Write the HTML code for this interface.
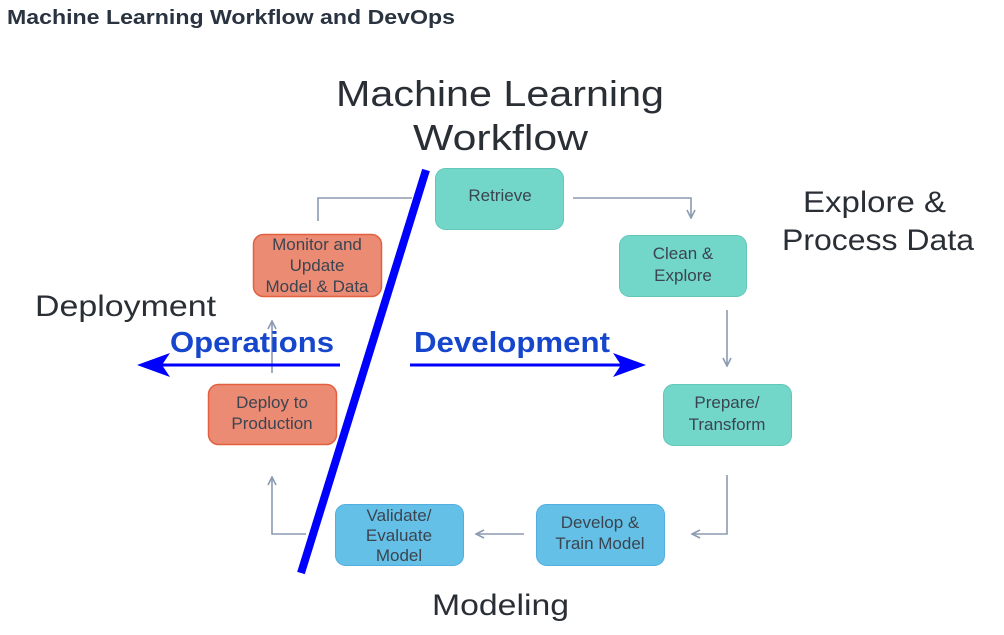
<!DOCTYPE html>
<html><head><meta charset="utf-8"><style>
html,body{margin:0;padding:0;background:#fff;width:1004px;height:635px;overflow:hidden}
svg{display:block}
text{font-family:"Liberation Sans","DejaVu Sans",sans-serif}
</style></head><body>
<svg width="1004" height="635" viewBox="0 0 1004 635" xmlns="http://www.w3.org/2000/svg">
<defs>
<marker id="g" markerWidth="10" markerHeight="10" refX="9" refY="5" orient="auto" markerUnits="userSpaceOnUse">
<path d="M1,1 L9,5 L1,9" fill="none" stroke="#8b9bb0" stroke-width="1.6"/>
</marker>
</defs>
<text x="7" y="24" font-size="20" font-weight="bold" fill="#2a3340" textLength="448" lengthAdjust="spacingAndGlyphs">Machine Learning Workflow and DevOps</text>
<text x="336" y="106" font-size="36" fill="#2a2f36" textLength="328" lengthAdjust="spacingAndGlyphs">Machine Learning</text>
<text x="413" y="150" font-size="36" fill="#2a2f36" textLength="175" lengthAdjust="spacingAndGlyphs">Workflow</text>
<text x="803" y="212" font-size="30" fill="#2a2f36" textLength="143" lengthAdjust="spacingAndGlyphs">Explore &amp;</text>
<text x="782" y="250" font-size="30" fill="#2a2f36" textLength="192" lengthAdjust="spacingAndGlyphs">Process Data</text>
<text x="35" y="316" font-size="30" fill="#2a2f36" textLength="181" lengthAdjust="spacingAndGlyphs">Deployment</text>
<text x="432" y="615" font-size="30" fill="#2a2f36" textLength="137" lengthAdjust="spacingAndGlyphs">Modeling</text>

<g fill="none" stroke="#8b9bb0" stroke-width="1.6">
<polyline points="573,198 691,198 691,218" marker-end="url(#g)"/>
<line x1="727" y1="310" x2="727" y2="366" marker-end="url(#g)"/>
<polyline points="727,475 727,534 692,534" marker-end="url(#g)"/>
<line x1="524" y1="534" x2="476" y2="534" marker-end="url(#g)"/>
<polyline points="306,534 272,534 272,477" marker-end="url(#g)"/>
<line x1="272" y1="373" x2="272" y2="321" marker-end="url(#g)"/>
<polyline points="318,221 318,198 412,198"/>
</g>

<g font-size="17" fill="#3b4450" text-anchor="middle">
<rect x="435.5" y="168.5" width="128" height="61" rx="10" fill="#72d6c8" stroke="#62c6b8"/>
<text x="500" y="201">Retrieve</text>
<rect x="619.5" y="235.5" width="127" height="61" rx="10" fill="#72d6c8" stroke="#62c6b8"/>
<text x="683" y="259">Clean &amp;</text><text x="683" y="281">Explore</text>
<rect x="663.5" y="384.5" width="128" height="61" rx="10" fill="#72d6c8" stroke="#62c6b8"/>
<text x="727" y="408">Prepare/</text><text x="727" y="430">Transform</text>
<rect x="536.5" y="504.5" width="128" height="61" rx="10" fill="#64c0e6" stroke="#52ade0"/>
<text x="600" y="528">Develop &amp;</text><text x="600" y="549">Train Model</text>
<rect x="335.5" y="504.5" width="128" height="61" rx="10" fill="#64c0e6" stroke="#52ade0"/>
<text x="399" y="521">Validate/</text><text x="399" y="541">Evaluate</text><text x="399" y="561">Model</text>
<rect x="208.5" y="384.5" width="128" height="60" rx="10" fill="#ec8b73" stroke="#e26040" stroke-width="1.5"/>
<text x="272" y="408">Deploy to</text><text x="272" y="429">Production</text>
<rect x="253.5" y="234.5" width="128" height="62" rx="10" fill="#ec8b73" stroke="#e26040" stroke-width="1.5"/>
<text x="317" y="250">Monitor and</text><text x="317" y="271">Update</text><text x="317" y="292">Model &amp; Data</text>
</g>

<line x1="426" y1="170" x2="301" y2="573" stroke="#0000ff" stroke-width="8"/>

<text x="170" y="352" font-size="29" font-weight="bold" fill="#1646cc" textLength="164" lengthAdjust="spacingAndGlyphs">Operations</text>
<text x="414" y="352" font-size="29" font-weight="bold" fill="#1646cc" textLength="196" lengthAdjust="spacingAndGlyphs">Development</text>
<line x1="340" y1="365" x2="160" y2="365" stroke="#0000ff" stroke-width="3"/>
<path d="M137,365 L170,353 L162,365 L170,377 Z" fill="#0000ff"/>
<line x1="410" y1="365" x2="625" y2="365" stroke="#0000ff" stroke-width="3"/>
<path d="M646,365 L613,353 L621,365 L613,377 Z" fill="#0000ff"/>
</svg>
</body></html>
